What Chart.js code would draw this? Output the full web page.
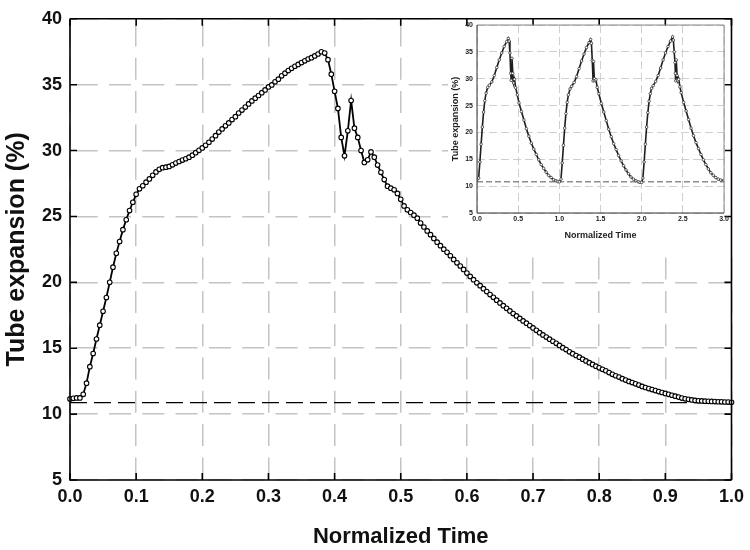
<!DOCTYPE html>
<html>
<head>
<meta charset="utf-8">
<script src="https://cdn.jsdelivr.net/npm/chart.js@4.4.1/dist/chart.umd.min.js"></script>
<style>
  html, body { margin: 0; padding: 0; background: #fff; }
  #wrap { position: relative; width: 750px; height: 550px; }
  #main { position: absolute; left: 0; top: 0; }
  #inset { position: absolute; left: 448px; top: 14px; }
</style>
</head>
<body>
<div id="wrap">
  <canvas id="main" width="750" height="550"></canvas>
  <canvas id="inset" width="290" height="234"></canvas>
</div>
<script>
// main panel: one normalized cycle
const time = [
  0, 0.005, 0.01, 0.015, 0.02, 0.025, 0.03, 0.035, 0.04, 0.045,
  0.05, 0.055, 0.06, 0.065, 0.07, 0.075, 0.08, 0.085, 0.09, 0.095,
  0.1, 0.105, 0.11, 0.115, 0.12, 0.125, 0.13, 0.135, 0.14, 0.145,
  0.15, 0.155, 0.16, 0.165, 0.17, 0.175, 0.18, 0.185, 0.19, 0.195,
  0.2, 0.205, 0.21, 0.215, 0.22, 0.225, 0.23, 0.235, 0.24, 0.245,
  0.25, 0.255, 0.26, 0.265, 0.27, 0.275, 0.28, 0.285, 0.29, 0.295,
  0.3, 0.305, 0.31, 0.315, 0.32, 0.325, 0.33, 0.335, 0.34, 0.345,
  0.35, 0.355, 0.36, 0.365, 0.37, 0.375, 0.38, 0.385, 0.39, 0.395,
  0.4, 0.405, 0.41, 0.415, 0.42, 0.425, 0.43, 0.435, 0.44, 0.445,
  0.45, 0.455, 0.46, 0.465, 0.47, 0.475, 0.48, 0.485, 0.49, 0.495,
  0.5, 0.505, 0.51, 0.515, 0.52, 0.525, 0.53, 0.535, 0.54, 0.545,
  0.55, 0.555, 0.56, 0.565, 0.57, 0.575, 0.58, 0.585, 0.59, 0.595,
  0.6, 0.605, 0.61, 0.615, 0.62, 0.625, 0.63, 0.635, 0.64, 0.645,
  0.65, 0.655, 0.66, 0.665, 0.67, 0.675, 0.68, 0.685, 0.69, 0.695,
  0.7, 0.705, 0.71, 0.715, 0.72, 0.725, 0.73, 0.735, 0.74, 0.745,
  0.75, 0.755, 0.76, 0.765, 0.77, 0.775, 0.78, 0.785, 0.79, 0.795,
  0.8, 0.805, 0.81, 0.815, 0.82, 0.825, 0.83, 0.835, 0.84, 0.845,
  0.85, 0.855, 0.86, 0.865, 0.87, 0.875, 0.88, 0.885, 0.89, 0.895,
  0.9, 0.905, 0.91, 0.915, 0.92, 0.925, 0.93, 0.935, 0.94, 0.945,
  0.95, 0.955, 0.96, 0.965, 0.97, 0.975, 0.98, 0.985, 0.99, 0.995,
  1
]
const expansion = [
  11.15, 11.2, 11.23, 11.23, 11.5, 12.35, 13.6, 14.6, 15.7, 16.75,
  17.8, 18.85, 20.0, 21.15, 22.2, 23.1, 24.0, 24.75, 25.45, 26.08,
  26.68, 27.1, 27.33, 27.6, 27.85, 28.12, 28.38, 28.58, 28.7, 28.74,
  28.8, 28.92, 29.05, 29.17, 29.28, 29.38, 29.5, 29.65, 29.84, 30.02,
  30.2, 30.4, 30.63, 30.87, 31.13, 31.4, 31.64, 31.88, 32.1, 32.35,
  32.57, 32.85, 33.07, 33.3, 33.54, 33.77, 33.98, 34.18, 34.39, 34.6,
  34.83, 34.98, 35.22, 35.42, 35.67, 35.87, 36.07, 36.24, 36.4, 36.54,
  36.68, 36.81, 36.94, 37.05, 37.18, 37.33, 37.5, 37.4, 36.9, 35.8,
  34.5, 33.2, 31.0, 29.6, 31.5, 33.8, 31.7, 31.0, 30.0, 29.1,
  29.3, 29.9, 29.5, 28.9, 28.35, 27.8, 27.3, 27.15, 27.02, 26.75,
  26.3, 25.8, 25.5, 25.3, 25.1, 24.87, 24.5, 24.2, 23.9, 23.62,
  23.33, 23.05, 22.78, 22.52, 22.28, 22.02, 21.74, 21.48, 21.24, 20.98,
  20.7, 20.45, 20.2, 19.96, 19.75, 19.52, 19.3, 19.07, 18.86, 18.65,
  18.44, 18.23, 18.03, 17.83, 17.63, 17.45, 17.26, 17.07, 16.9, 16.72,
  16.54, 16.36, 16.18, 16.01, 15.85, 15.69, 15.53, 15.37, 15.21, 15.04,
  14.9, 14.73, 14.59, 14.45, 14.32, 14.17, 14.04, 13.9, 13.77, 13.64,
  13.51, 13.4, 13.29, 13.15, 13.02, 12.91, 12.81, 12.69, 12.58, 12.48,
  12.39, 12.3, 12.2, 12.1, 12.02, 11.94, 11.86, 11.79, 11.71, 11.64,
  11.57, 11.5, 11.43, 11.36, 11.29, 11.22, 11.16, 11.12, 11.08, 11.04,
  11.01, 11.0, 10.98, 10.97, 10.96, 10.95, 10.94, 10.93, 10.92, 10.91,
  10.9
]
const baseline = 10.87
const xTicks = [0, 0.1, 0.2, 0.3, 0.4, 0.5, 0.6, 0.7, 0.8, 0.9, 1]
const xTickLabels = ['0.0', '0.1', '0.2', '0.3', '0.4', '0.5', '0.6', '0.7', '0.8', '0.9', '1.0']
const yTicks = [5, 10, 15, 20, 25, 30, 35, 40]

// inset: three consecutive cycles
const insetTime = [
  0, 0.02, 0.035, 0.05, 0.065, 0.08, 0.095, 0.11, 0.13, 0.15,
  0.18, 0.21, 0.24, 0.27, 0.3, 0.33, 0.36, 0.38, 0.39, 0.4,
  0.41, 0.415, 0.425, 0.435, 0.445, 0.455, 0.47, 0.49, 0.51, 0.54,
  0.57, 0.6, 0.63, 0.66, 0.69, 0.72, 0.75, 0.78, 0.81, 0.84,
  0.87, 0.9, 0.93, 0.96, 0.98,
  1, 1.02, 1.035, 1.05, 1.065, 1.08, 1.095, 1.11, 1.13, 1.15,
  1.18, 1.21, 1.24, 1.27, 1.3, 1.33, 1.36, 1.38, 1.39, 1.4,
  1.41, 1.415, 1.425, 1.435, 1.445, 1.46, 1.48, 1.51, 1.54, 1.57,
  1.6, 1.63, 1.66, 1.69, 1.72, 1.75, 1.78, 1.81, 1.84, 1.87,
  1.9, 1.93, 1.96, 1.98,
  2, 2.015, 2.03, 2.045, 2.06, 2.075, 2.09, 2.105, 2.12, 2.14,
  2.17, 2.2, 2.23, 2.26, 2.29, 2.32, 2.35, 2.375, 2.385, 2.395,
  2.405, 2.41, 2.415, 2.42, 2.43, 2.44, 2.45, 2.465, 2.48, 2.51,
  2.54, 2.57, 2.6, 2.63, 2.66, 2.69, 2.72, 2.75, 2.78, 2.81,
  2.84, 2.87, 2.9, 2.93, 2.96, 3
]
const insetExpansion = [
  11.2, 11.5, 14.5, 17.8, 21.0, 23.8, 25.9, 27.3, 28.4, 28.8,
  29.4, 30.6, 32.1, 33.5, 34.8, 36.0, 36.9, 37.5, 37.0, 34.8,
  31.0, 29.7, 33.8, 31.0, 29.2, 29.9, 28.3, 27.0, 25.5, 23.9,
  22.3, 20.7, 19.3, 18.0, 16.9, 15.9, 14.9, 14.0, 13.3, 12.6,
  12.0, 11.6, 11.2, 11.0, 10.85,
  10.8, 11.3, 14.3, 17.6, 20.8, 23.5, 25.6, 27.0, 28.1, 28.6,
  29.3, 30.4, 31.9, 33.3, 34.6, 35.8, 36.7, 37.3, 36.6, 33.4,
  29.6, 33.2, 30.0, 29.6, 29.8, 28.4, 27.2, 25.4, 23.8, 22.2,
  20.6, 19.2, 17.9, 16.8, 15.7, 14.7, 13.8, 13.0, 12.3, 11.7,
  11.3, 11.0, 10.8, 10.7,
  10.7, 11.5, 14.5, 17.8, 21.0, 23.7, 25.8, 27.2, 28.2, 28.7,
  29.5, 30.6, 32.0, 33.5, 34.8, 36.0, 37.0, 37.8, 37.2, 35.0,
  33.0, 31.0, 29.6, 33.5, 30.6, 29.6, 29.9, 28.5, 27.4, 25.6,
  24.0, 22.4, 20.8, 19.4, 18.1, 17.0, 15.9, 14.9, 14.0, 13.2,
  12.5, 12.0, 11.6, 11.3, 11.15, 11.1
]
const insetBaseline = 10.8
const insetXTicks = [0, 0.5, 1, 1.5, 2, 2.5, 3]
const insetXTickLabels = ['0.0', '0.5', '1.0', '1.5', '2.0', '2.5', '3.0']

const FONT = "'Liberation Sans', Arial, Helvetica, sans-serif"

// box + inward ticks, and an optional white patch behind the inset
const frame = {
  id: 'frame',
  beforeDatasetsDraw(chart, args, opts) {
    if (!opts.cover) return
    const ctx = chart.ctx
    ctx.save()
    ctx.fillStyle = '#fff'
    ctx.fillRect(...opts.cover)
    ctx.restore()
  },
  afterDraw(chart, args, opts) {
    const { ctx, chartArea: a, scales: { x, y } } = chart
    ctx.save()
    ctx.lineWidth = opts.width
    ctx.strokeStyle = opts.side || opts.color
    ctx.beginPath()
    ctx.moveTo(a.left, a.top); ctx.lineTo(a.right, a.top); ctx.lineTo(a.right, a.bottom)
    ctx.stroke()
    ctx.strokeStyle = opts.color
    ctx.beginPath()
    ctx.moveTo(a.left, a.top); ctx.lineTo(a.left, a.bottom); ctx.lineTo(a.right, a.bottom)
    ctx.stroke()
    if (opts.tick) {
      ctx.beginPath()
      x.ticks.forEach(t => {
        const px = x.getPixelForValue(t.value)
        ctx.moveTo(px, a.bottom); ctx.lineTo(px, a.bottom - opts.tick)
        ctx.moveTo(px, a.top);    ctx.lineTo(px, a.top + opts.tick)
      })
      y.ticks.forEach(t => {
        const py = y.getPixelForValue(t.value)
        ctx.moveTo(a.left, py);  ctx.lineTo(a.left + opts.tick, py)
        ctx.moveTo(a.right, py); ctx.lineTo(a.right - opts.tick, py)
      })
      ctx.stroke()
    }
    ctx.restore()
  }
}

new Chart(document.getElementById('main'), {
  type: 'line',
  data: {
    datasets: [
      {
        data: time.map((t, i) => ({ x: t, y: expansion[i] })),
        borderColor: '#000',
        borderWidth: 1.8,
        pointRadius: 2.3,
        pointBorderWidth: 1.1,
        pointBorderColor: '#000',
        pointBackgroundColor: '#fff',
        tension: 0,
        clip: 8,
        order: 1
      },
      {
        data: [{ x: 0, y: baseline }, { x: 1, y: baseline }],
        borderColor: '#000',
        borderWidth: 1.4,
        borderDash: [17, 7],
        pointRadius: 0,
        order: 2
      }
    ]
  },
  options: {
    responsive: false,
    animation: false,
    devicePixelRatio: 1,
    layout: { padding: { top: 13, right: 14, left: 0, bottom: 0 } },
    plugins: {
      legend: { display: false },
      tooltip: { enabled: false },
      frame: { color: '#000', width: 1.6, tick: 7, cover: [448, 13, 288, 234] }
    },
    scales: {
      x: {
        type: 'linear', min: 0, max: 1,
        afterBuildTicks: s => { s.ticks = xTicks.map(v => ({ value: v })) },
        afterFit: s => { s.height = 70 },
        ticks: {
          autoSkip: false, maxRotation: 0, padding: 6, color: '#111',
          font: { family: FONT, size: 18, weight: 'bold' },
          callback: (v, i) => xTickLabels[i]
        },
        grid: { color: '#c4c4c4', lineWidth: 1.5, drawTicks: false },
        border: { display: false, dash: [22, 11.3], dashOffset: 27.6 },
        title: {
          display: true, text: 'Normalized Time', color: '#111',
          font: { family: FONT, size: 22, weight: 'bold' },
          padding: { top: 0, bottom: 0 }
        }
      },
      y: {
        type: 'linear', min: 5, max: 40,
        afterBuildTicks: s => { s.ticks = yTicks.map(v => ({ value: v })) },
        afterFit: s => { s.width = 70 },
        ticks: {
          autoSkip: false, padding: 8, color: '#111',
          font: { family: FONT, size: 18, weight: 'bold' }
        },
        grid: { color: '#c4c4c4', lineWidth: 1.5, drawTicks: false },
        border: { display: false, dash: [22, 11.3], dashOffset: 27.6 },
        title: {
          display: true, text: 'Tube expansion (%)', color: '#111',
          font: { family: FONT, size: 25, weight: 'bold' },
          padding: { top: 2, bottom: 0 }
        }
      }
    }
  },
  plugins: [frame]
})

new Chart(document.getElementById('inset'), {
  type: 'line',
  data: {
    datasets: [
      {
        data: insetTime.map((t, i) => ({ x: t, y: insetExpansion[i] })),
        borderColor: '#1e1e1e',
        borderWidth: 1.6,
        pointRadius: 1.3,
        pointBorderWidth: 0.7,
        pointBorderColor: '#222',
        pointBackgroundColor: '#fff',
        tension: 0,
        order: 1
      },
      {
        data: [{ x: 0, y: insetBaseline }, { x: 3, y: insetBaseline }],
        borderColor: '#555',
        borderWidth: 1,
        borderDash: [6, 3],
        pointRadius: 0,
        order: 2
      }
    ]
  },
  options: {
    responsive: false,
    animation: false,
    devicePixelRatio: 1,
    layout: { padding: { top: 11, right: 14, left: 0, bottom: 0 } },
    plugins: {
      legend: { display: false },
      tooltip: { enabled: false },
      frame: { color: '#333', side: '#888', width: 1, tick: 0 }
    },
    scales: {
      x: {
        type: 'linear', min: 0, max: 3,
        afterBuildTicks: s => { s.ticks = insetXTicks.map(v => ({ value: v })) },
        afterFit: s => { s.height = 35 },
        ticks: {
          autoSkip: false, maxRotation: 0, padding: 2, color: '#222',
          font: { family: FONT, size: 7, weight: 'bold' },
          callback: (v, i) => insetXTickLabels[i]
        },
        grid: { color: '#cfcfcf', lineWidth: 1, drawTicks: false },
        border: { display: false, dash: [8, 4] },
        title: {
          display: true, text: 'Normalized Time', color: '#222',
          font: { family: FONT, size: 9, weight: 'bold' },
          padding: { top: 0, bottom: 7 }
        }
      },
      y: {
        type: 'linear', min: 5, max: 40,
        afterBuildTicks: s => { s.ticks = yTicks.map(v => ({ value: v })) },
        afterFit: s => { s.width = 29 },
        ticks: {
          autoSkip: false, padding: 4, color: '#222',
          font: { family: FONT, size: 7, weight: 'bold' }
        },
        grid: { color: '#cfcfcf', lineWidth: 1, drawTicks: false },
        border: { display: false, dash: [8, 4] },
        title: {
          display: true, text: 'Tube expansion (%)', color: '#222',
          font: { family: FONT, size: 9, weight: 'bold' },
          padding: { top: 2, bottom: 0 }
        }
      }
    }
  },
  plugins: [frame]
})
</script>
</body>
</html>
